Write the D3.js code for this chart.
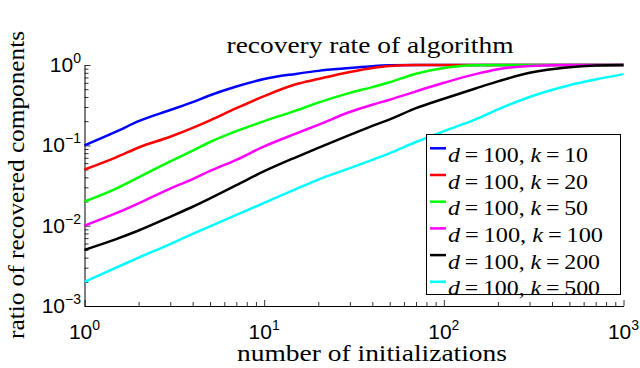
<!DOCTYPE html>
<html><head><meta charset="utf-8">
<script src="https://cdn.jsdelivr.net/npm/d3@7"></script>
<style>body{margin:0;background:#fff}svg{display:block}</style>
</head><body>
<svg id="chart" width="640" height="368"></svg>
<script>
// ---- data ----
const initializations = [1,1.5,2,3,4,5,7,10,15,20,30,40,50,70,100,150,200,300,500,700,1000];
const k10  = [0.100,0.148,0.200,0.275,0.345,0.420,0.540,0.670,0.775,0.845,0.915,0.965,0.990,1,1,1,1,1,1,1,1];
const k20  = [0.050,0.071,0.094,0.128,0.165,0.205,0.290,0.410,0.575,0.670,0.820,0.920,0.975,1,1,1,1,1,1,1,1];
const k50  = [0.020,0.029,0.040,0.063,0.086,0.110,0.150,0.200,0.270,0.340,0.450,0.530,0.610,0.780,0.920,0.990,1,1,1,1,1];
const k100 = [0.010,0.0143,0.0190,0.029,0.038,0.048,0.066,0.097,0.140,0.180,0.260,0.320,0.370,0.470,0.600,0.770,0.885,0.975,1,1,1];
const k200 = [0.005,0.0068,0.0087,0.0129,0.0172,0.0219,0.0319,0.0476,0.071,0.093,0.135,0.175,0.210,0.290,0.380,0.510,0.625,0.800,0.940,0.985,1];
const k500 = [0.002,0.0030,0.0040,0.0059,0.0079,0.0098,0.0136,0.0192,0.0285,0.0375,0.052,0.066,0.080,0.110,0.150,0.210,0.280,0.400,0.560,0.660,0.770];
const seriesValues = [k10,k20,k50,k100,k200,k500];
const seriesK = ["10","20","50","100","200","500"];
const seriesColors = ["#0000ff","#ff0000","#00ff00","#ff00ff","#000000","#00ffff"];
const xTickExponents = ["0","1","2","3"];
const yTickExponents = ["0","\u22121","\u22122","\u22123"];
const titleText = "recovery rate of algorithm";
const xLabelText = "number of initializations";
const yLabelText = "ratio of recovered components";

// ---- layout ----
const svg = d3.select("#chart");
const x = d3.scaleLog().domain([1,1000]).range([84.5,623.5]);
const y = d3.scaleLog().domain([1e-3,1]).range([306,65]);
const serif = "'Liberation Serif','Times New Roman',serif";
const sans = "'Liberation Sans',Arial,Helvetica,sans-serif";

const allTicks = v => { const out=[]; for(let e=v[0];e<v[1];e++) for(let m=1;m<10;m++) out.push(m*Math.pow(10,e)); out.push(Math.pow(10,v[1])); return out; };
const xTicks = allTicks([0,3]);
const yTicks = allTicks([-3,0]);
const isMajor = v => Math.abs(Math.log10(v)-Math.round(Math.log10(v)))<1e-9;

const gx = svg.append("g").attr("transform","translate(0,306)")
  .call(d3.axisBottom(x).tickValues(xTicks).tickFormat("").tickSizeOuter(0).tickSizeInner(-4));
gx.selectAll(".tick line").attr("y2", d=>isMajor(d)?-6:-4);
const gy = svg.append("g").attr("transform","translate(84.5,0)")
  .call(d3.axisLeft(y).tickValues(yTicks).tickFormat("").tickSizeOuter(0).tickSizeInner(-4));
gy.selectAll(".tick line").attr("x2", d=>isMajor(d)?6:4);
svg.selectAll(".domain").attr("stroke","#000").attr("stroke-width",1);
svg.selectAll(".tick line").attr("stroke","#000").attr("stroke-width",0.8);

// tick labels
[1,10,100,1000].forEach((v,i)=>{
  const t = svg.append("text").attr("x",x(v)).attr("y",339).attr("text-anchor","middle")
    .attr("font-family",sans).attr("font-size",21).attr("fill","#000");
  t.append("tspan").text("10");
  t.append("tspan").attr("dy",-9).attr("font-size",14).text(xTickExponents[i]);
});
[1,0.1,0.01,0.001].forEach((v,i)=>{
  const t = svg.append("text").attr("x",81).attr("y",y(v)+7).attr("text-anchor","end")
    .attr("font-family",sans).attr("font-size",21).attr("fill","#000");
  t.append("tspan").text("10");
  t.append("tspan").attr("dy",-9).attr("font-size",14).text(yTickExponents[i]);
});

// lines
const line = d3.line().x(d=>x(d[0])).y(d=>y(d[1])).curve(d3.curveMonotoneX);
seriesValues.forEach((vals,i)=>{
  svg.append("path").datum(initializations.map((n,j)=>[n,vals[j]]))
    .attr("d",line).attr("fill","none").attr("stroke",seriesColors[i])
    .attr("stroke-width",2.5).attr("stroke-linejoin","round");
});

// title & labels
svg.append("text").attr("x",370).attr("y",53).attr("text-anchor","middle")
  .attr("font-family",serif).attr("font-size",23).attr("textLength",287).attr("lengthAdjust","spacingAndGlyphs").text(titleText);
svg.append("text").attr("x",372).attr("y",361).attr("text-anchor","middle")
  .attr("font-family",serif).attr("font-size",23).attr("textLength",270).attr("lengthAdjust","spacingAndGlyphs").text(xLabelText);
svg.append("text").attr("transform","translate(24,185) rotate(-90)").attr("text-anchor","middle")
  .attr("font-family",serif).attr("font-size",23).attr("textLength",308).attr("lengthAdjust","spacingAndGlyphs").text(yLabelText);

// legend
const legendWidths = [140,140,140,155,152,152];
const lg = svg.append("g");
lg.append("rect").attr("x",426.5).attr("y",134.5).attr("width",194).attr("height",160)
  .attr("fill","#fff").attr("stroke","#000").attr("stroke-width",1);
seriesK.forEach((k,i)=>{
  const yy = 148.3 + i*26.7;
  lg.append("line").attr("x1",430).attr("x2",446).attr("y1",yy).attr("y2",yy)
    .attr("stroke",seriesColors[i]).attr("stroke-width",2.5);
  const t = lg.append("text").attr("x",448).attr("y",yy+13.6)
    .attr("font-family",serif).attr("font-size",22).attr("fill","#000")
    .attr("textLength",legendWidths[i]).attr("lengthAdjust","spacingAndGlyphs");
  t.append("tspan").attr("font-style","italic").text("d");
  t.append("tspan").text("\u2009=\u2009100, ");
  t.append("tspan").attr("font-style","italic").text("k");
  t.append("tspan").text("\u2009=\u2009" + k);
});
</script>
</body></html>
